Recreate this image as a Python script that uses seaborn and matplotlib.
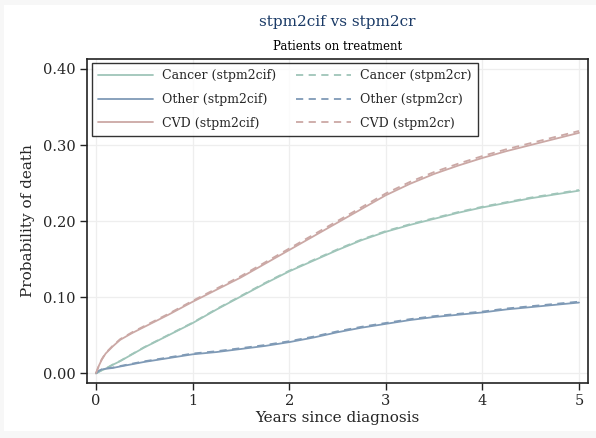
import numpy as np
import pandas as pd
import matplotlib
matplotlib.use("Agg")
import matplotlib.pyplot as plt
import seaborn as sns
from matplotlib.patches import Rectangle

# ---- data ----
years = [0.0, 0.015, 0.03, 0.06, 0.1, 0.17, 0.25, 0.375, 0.5, 0.75, 1.0, 1.25, 1.5, 1.75,
         2.0, 2.25, 2.5, 2.75, 3.0, 3.25, 3.5, 3.75, 4.0, 4.25, 4.5, 4.75, 5.0]

cancer_cif = [0.0, 0.001, 0.002, 0.004, 0.006, 0.011, 0.016, 0.025, 0.034, 0.050, 0.066, 0.084, 0.101, 0.118,
              0.134, 0.148, 0.162, 0.175, 0.186, 0.195, 0.203, 0.211, 0.218, 0.224, 0.230, 0.235, 0.240]
other_cif  = [0.0, 0.0015, 0.003, 0.005, 0.006, 0.007, 0.009, 0.012, 0.015, 0.020, 0.025, 0.028, 0.032, 0.036,
              0.041, 0.047, 0.054, 0.060, 0.065, 0.070, 0.074, 0.077, 0.080, 0.084, 0.087, 0.090, 0.093]
cvd_cif    = [0.0, 0.005, 0.010, 0.018, 0.026, 0.035, 0.044, 0.053, 0.061, 0.077, 0.094, 0.110, 0.126, 0.144,
              0.162, 0.180, 0.198, 0.216, 0.234, 0.249, 0.262, 0.273, 0.283, 0.292, 0.300, 0.308, 0.316]

cancer_cr = [0.0, 0.001, 0.002, 0.004, 0.0062, 0.0113, 0.0163, 0.0254, 0.0344, 0.0505, 0.0666, 0.0847, 0.1017, 0.1188,
             0.1348, 0.1489, 0.1629, 0.1759, 0.1869, 0.1959, 0.2039, 0.2119, 0.2189, 0.2249, 0.2309, 0.2359, 0.2409]
other_cr  = [0.0, 0.0016, 0.0032, 0.0053, 0.0064, 0.0075, 0.0096, 0.0127, 0.0158, 0.0209, 0.0260, 0.0291, 0.0331, 0.0372,
             0.0422, 0.0482, 0.0552, 0.0612, 0.0662, 0.0712, 0.0752, 0.0782, 0.0812, 0.0852, 0.0882, 0.0912, 0.0942]
cvd_cr    = [0.0, 0.0052, 0.0104, 0.0186, 0.0267, 0.0358, 0.0449, 0.0540, 0.0621, 0.0782, 0.0953, 0.1115, 0.1277, 0.1458,
             0.1640, 0.1821, 0.2002, 0.2183, 0.2364, 0.2515, 0.2645, 0.2755, 0.2855, 0.2945, 0.3025, 0.3105, 0.3185]

series_labels = ["Cancer (stpm2cif)", "Other (stpm2cif)", "CVD (stpm2cif)",
                 "Cancer (stpm2cr)", "Other (stpm2cr)", "CVD (stpm2cr)"]
xticks = [0, 1, 2, 3, 4, 5]
yticks = [0.0, 0.1, 0.2, 0.3, 0.4]

colors = {"Cancer": "#9fc5b9", "Other": "#7f9ab6", "CVD": "#cba8a5"}

sns.set_style("white")
plt.rcParams["font.family"] = ["DejaVu Serif"]

fig = plt.figure(figsize=(5.96, 4.38), dpi=100)
fig.patch.set_facecolor("#f7f7f7")
fig.patches.append(Rectangle((4/596, 7/438), 592/596, 426/438, transform=fig.transFigure,
                             facecolor="white", edgecolor="none", zorder=-10))

ax = fig.add_axes([87/596, 1 - 383/438, (588 - 87)/596, (383 - 59)/438])
ax.set_facecolor("white")

data_cif = [cancer_cif, other_cif, cvd_cif]
data_cr = [cancer_cr, other_cr, cvd_cr]
names = ["Cancer", "Other", "CVD"]

for name, vals, lab in zip(names, data_cif, series_labels[:3]):
    df = pd.DataFrame({"t": years, "p": vals})
    sns.lineplot(data=df, x="t", y="p", ax=ax, color=colors[name], lw=1.3,
                 label=lab, zorder=3)
for name, vals, lab in zip(names, data_cr, series_labels[3:]):
    df = pd.DataFrame({"t": years, "p": vals})
    sns.lineplot(data=df, x="t", y="p", ax=ax, color=colors[name], lw=1.3,
                 linestyle=(0, (4, 3)), label=lab, zorder=4)

ax.set_xlim(-0.093, 5.093)
ax.set_ylim(-0.0127, 0.413)
ax.set_xticks(xticks)
ax.set_xticklabels([str(x) for x in xticks])
ax.set_yticks(yticks)
ax.set_yticklabels([f"{y:.2f}" for y in yticks])
ax.grid(True, color="#eeeeee", lw=0.9)
for s in ax.spines.values():
    s.set_visible(True)
    s.set_color("#222222")
    s.set_linewidth(1.2)
ax.tick_params(axis="both", which="major", direction="out", length=5, width=1,
               color="#222222", labelsize=10.5, pad=3, bottom=True, left=True)
ax.set_xlabel("Years since diagnosis", fontsize=11, labelpad=2)
ax.set_ylabel("Probability of death", fontsize=11, labelpad=6)

handles, labels = ax.get_legend_handles_labels()
leg = ax.legend(handles, labels, ncol=2, loc="upper left",
                bbox_to_anchor=(5/501, (383 - 63)/324), borderaxespad=0,
                frameon=True, fancybox=False, fontsize=9, handlelength=4.4,
                columnspacing=1.6, handletextpad=0.7, labelspacing=0.85,
                borderpad=0.5, edgecolor="black")
leg.get_frame().set_linewidth(1.0)
leg.set_zorder(10)

fig.text(337.5/596, 1 - 22/438, "stpm2cif vs stpm2cr", ha="center", va="center",
         fontsize=11, color="#1a3a66")
fig.text(337.5/596, 1 - 46/438, "Patients on treatment", ha="center", va="center",
         fontsize=8.5, color="black")

fig.savefig("out.png", dpi=100, facecolor=fig.get_facecolor())
